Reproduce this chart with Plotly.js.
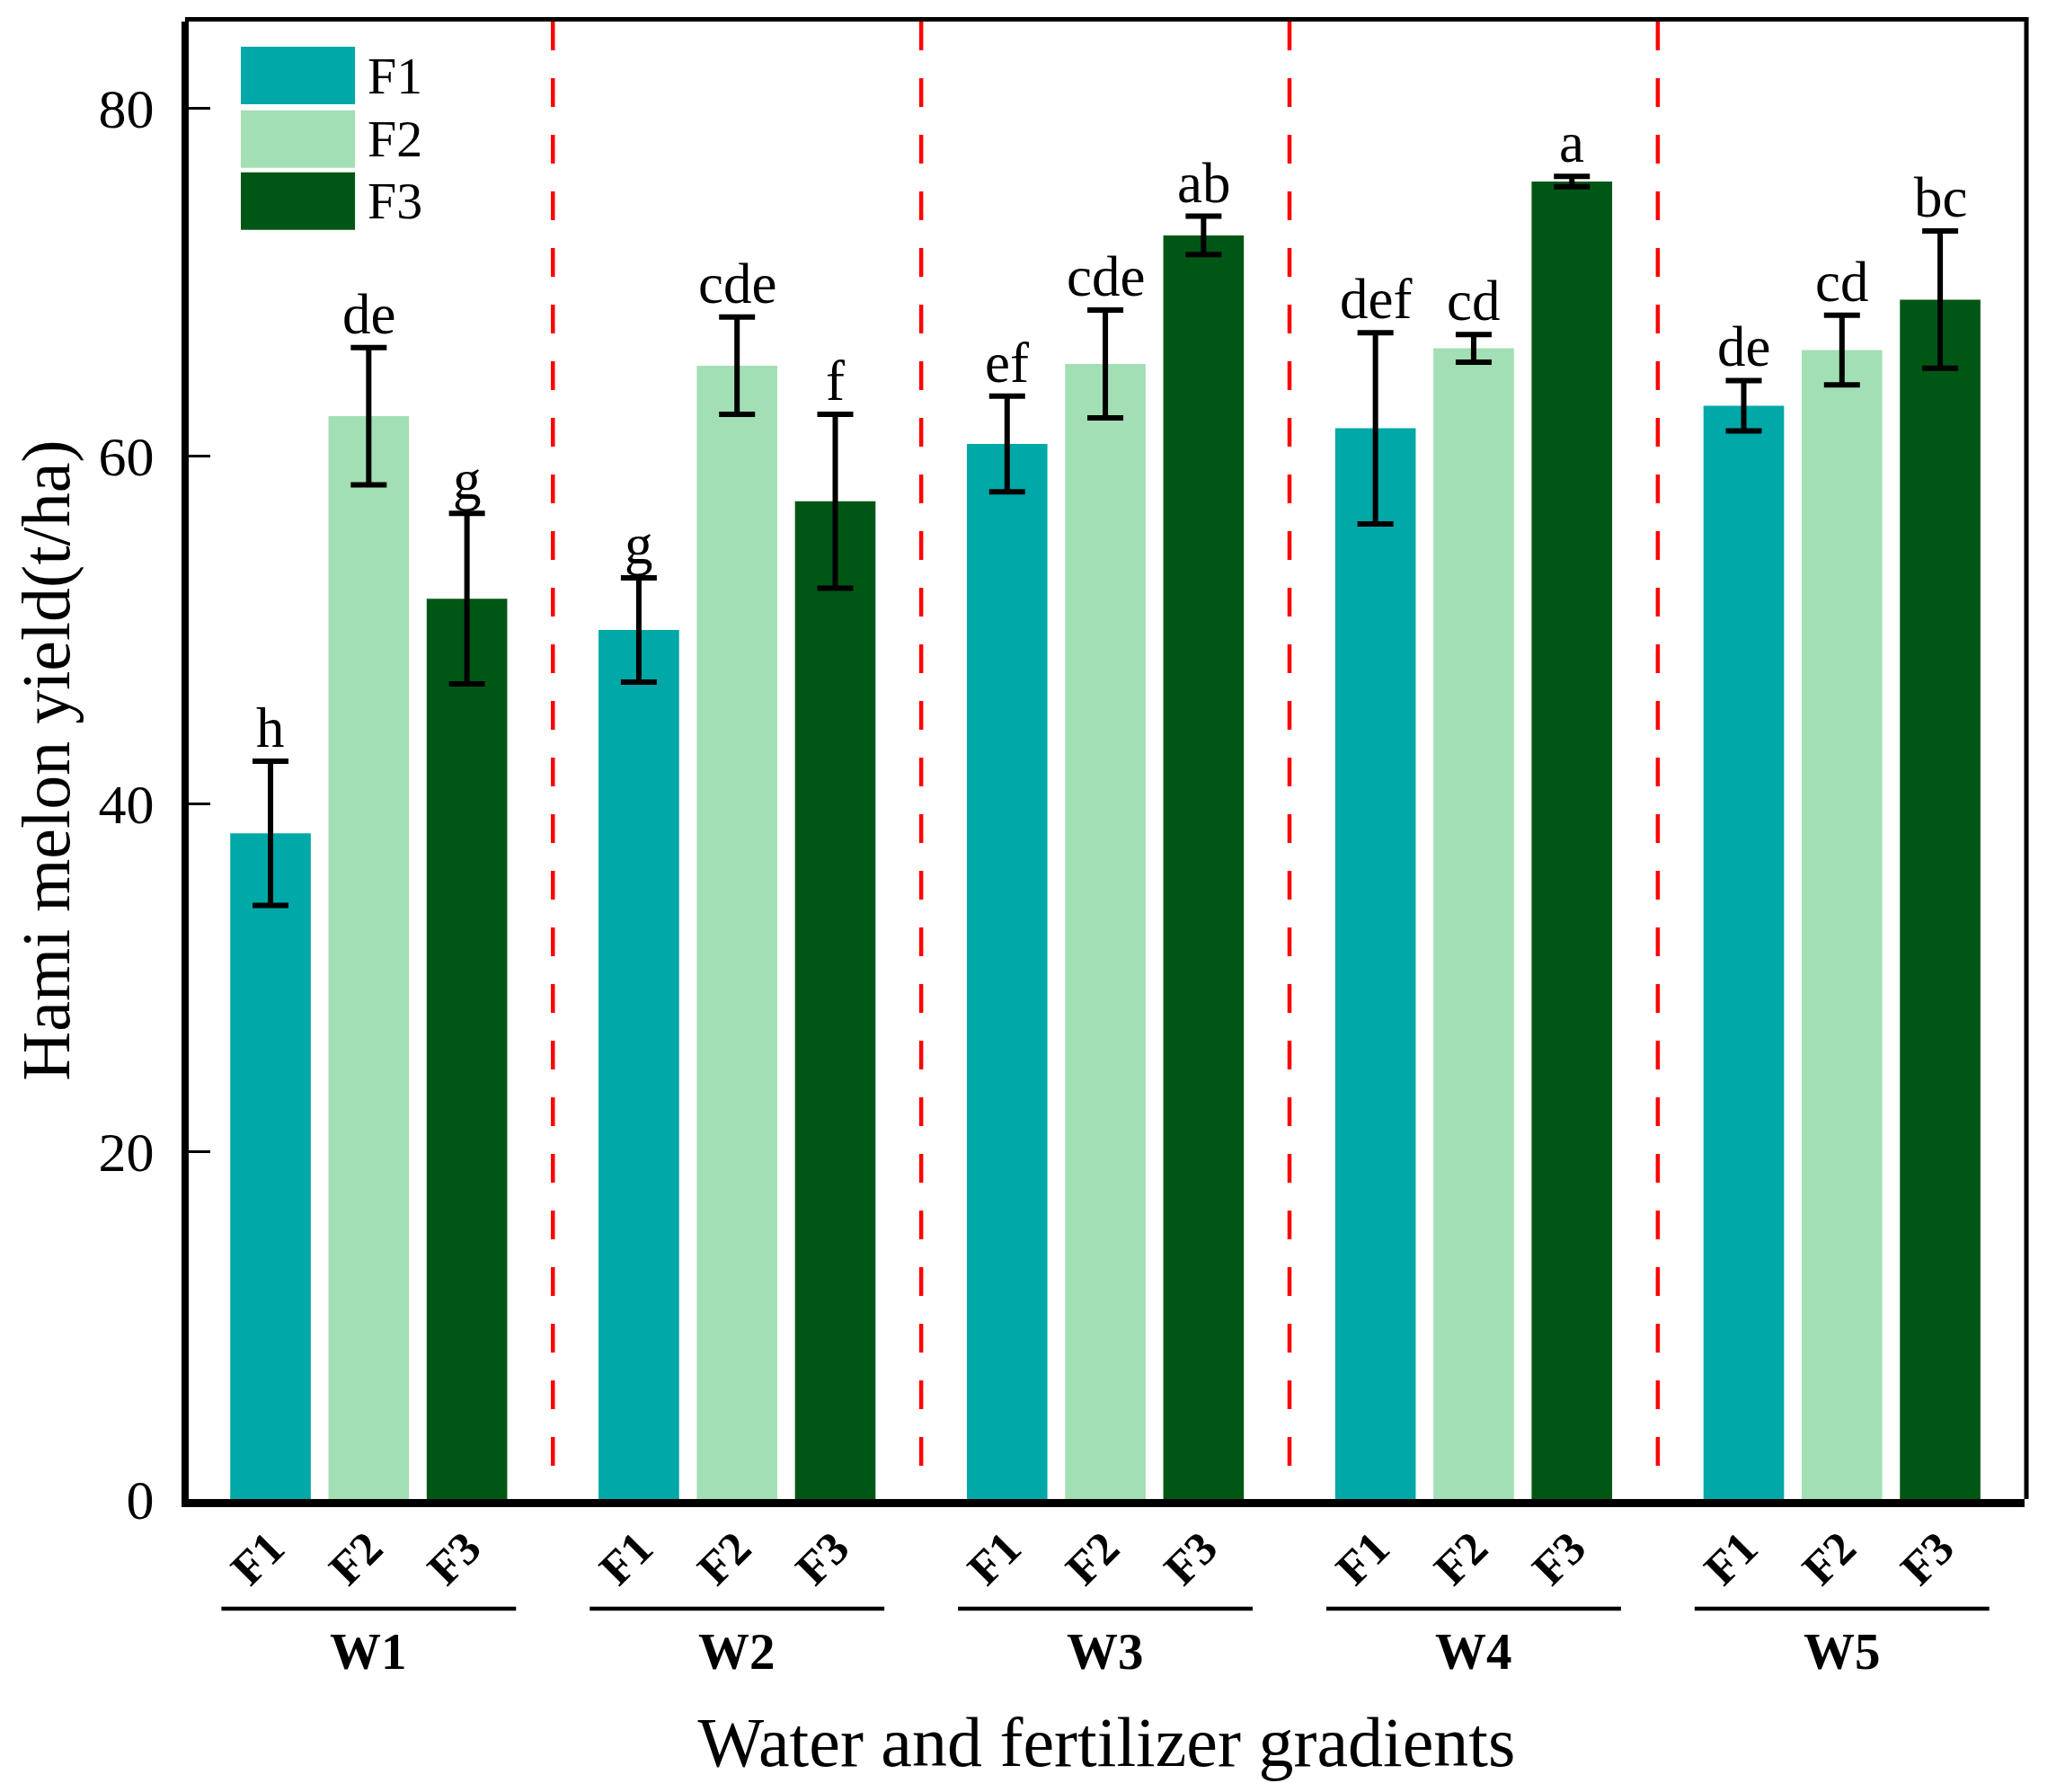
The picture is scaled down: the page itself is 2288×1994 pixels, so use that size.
<!DOCTYPE html>
<html>
<head>
<meta charset="utf-8">
<script src="https://cdn.plot.ly/plotly-3.0.1.min.js"></script>
<style>
  html, body { margin: 0; padding: 0; background: #fff; }
  #chart { width: 2288px; height: 1994px; }
</style>
</head>
<body>
<div id="chart"></div>
<script>
// data
var groups = ['W1', 'W2', 'W3', 'W4', 'W5'];
var levels = ['F1', 'F2', 'F3'];

var yieldF1 = [38.3, 50.0, 60.7, 61.6, 62.9];
var yieldF2 = [62.3, 65.2, 65.3, 66.2, 66.1];
var yieldF3 = [51.8, 57.4, 72.7, 75.8, 69.0];

var errF1 = [4.15, 3.0, 2.75, 5.5, 1.45];
var errF2 = [3.95, 2.8, 3.1, 0.8, 2.0];
var errF3 = [4.9, 5.0, 1.1, 0.3, 3.95];

var lettersF1 = ['h', 'g', 'ef', 'def', 'de'];
var lettersF2 = ['de', 'cde', 'cde', 'cd', 'cd'];
var lettersF3 = ['g', 'f', 'ab', 'a', 'bc'];

var colors = ['#00A8A8', '#A3DFB4', '#005715'];

var values = [yieldF1, yieldF2, yieldF3];
var errors = [errF1, errF2, errF3];
var letters = [lettersF1, lettersF2, lettersF3];

var FONT = 'Times New Roman, Liberation Serif, serif';
var step = 3.75;   // distance between group centres (in bar units)

function xpos(g, k){
	return g * step + (k - 1);
}

var traces = [];
var annotations = [];
var shapes = [];
var tickvals = [];
var ticktext = [];

for(var k = 0; k < levels.length; k++){
	var xs = [];
	for(var g = 0; g < groups.length; g++){
		xs.push(xpos(g, k));
	}
	traces.push({
		type: 'bar',
		name: levels[k],
		x: xs,
		y: values[k],
		width: 0.82,
		marker: {color: colors[k], line: {width: 0}},
		error_y: {
			type: 'data',
			array: errors[k],
			visible: true,
			color: '#000',
			thickness: 6,
			width: 20
		},
		showlegend: false
	});

	//буквы над столбиками
	for(var g = 0; g < groups.length; g++){
		annotations.push({
			x: xs[g],
			y: values[k][g] + errors[k][g],
			xref: 'x', yref: 'y',
			text: letters[k][g],
			showarrow: false,
			yanchor: 'bottom',
			yshift: 0,
			font: {family: FONT, size: 63, color: '#000'}
		});
	}
}

for(var g = 0; g < groups.length; g++){
	for(var k = 0; k < levels.length; k++){
		tickvals.push(xpos(g, k));
		ticktext.push('<b>' + levels[k] + '</b>');
	}
	// group label + line under the F ticks
	annotations.push({
		x: g * step, y: -0.103,
		xref: 'x', yref: 'paper',
		text: '<b>' + groups[g] + '</b>',
		showarrow: false,
		yanchor: 'middle',
		font: {family: FONT, size: 57, color: '#000'}
	});
	shapes.push({
		type: 'line', xref: 'x', yref: 'paper',
		x0: g * step - 1.5, x1: g * step + 1.5,
		y0: -0.0742, y1: -0.0742,
		line: {color: '#000', width: 4.5}
	});
	// red dashed separators
	if(g < groups.length - 1){
		shapes.push({
			type: 'line', xref: 'x', yref: 'paper',
			x0: g * step + step / 2, x1: g * step + step / 2,
			y0: 1, y1: 0.004,
			line: {color: '#FF0000', width: 4.5, dash: '32px,31px'}
		});
	}
}

// top and right frame lines (thinner than axes)
shapes.push({type: 'line', xref: 'paper', yref: 'paper', x0: -0.002, x1: 1.002, y0: 1.0015, y1: 1.0015,
	line: {color: '#000', width: 5}});
shapes.push({type: 'line', xref: 'paper', yref: 'paper', x0: 1.001, x1: 1.001, y0: 0, y1: 1.003,
	line: {color: '#000', width: 5}});

// legend drawn as large boxes
var boxTop = [0.983, 0.940, 0.898];
var boxH = 0.039;
for(var k = 0; k < levels.length; k++){
	shapes.push({
		type: 'rect', xref: 'paper', yref: 'paper',
		x0: 0.0284, x1: 0.0906,
		y0: boxTop[k] - boxH, y1: boxTop[k],
		fillcolor: colors[k],
		line: {width: 0}
	});
	annotations.push({
		x: 0.0965, y: boxTop[k] - boxH / 2,
		xref: 'paper', yref: 'paper',
		xanchor: 'left', yanchor: 'middle',
		text: levels[k],
		showarrow: false,
		font: {family: FONT, size: 58, color: '#000'}
	});
}

var layout = {
	width: 2288,
	height: 1994,
	margin: {l: 210, r: 35, t: 24, b: 326},
	paper_bgcolor: '#fff',
	plot_bgcolor: '#fff',
	font: {family: FONT, color: '#000'},
	barmode: 'overlay',
	xaxis: {
		range: [-1.833, 16.859],
		tickvals: tickvals,
		ticktext: ticktext,
		tickangle: -45,
		ticks: '',
		ticklabelstandoff: -6,
		tickfont: {family: FONT, size: 52, color: '#000'},
		showgrid: false,
		zeroline: false,
		showline: true,
		linecolor: '#000',
		linewidth: 9,
		title: {
			text: 'Water and fertilizer gradients',
			font: {family: FONT, size: 78, color: '#000'},
			standoff: 140
		},
		automargin: false
	},
	yaxis: {
		range: [0, 85],
		tickvals: [0, 20, 40, 60, 80],
		ticks: 'inside',
		ticklen: 24,
		tickwidth: 3,
		tickcolor: '#000',
		ticklabelstandoff: 18,
		tickfont: {family: FONT, size: 62, color: '#000'},
		showgrid: false,
		zeroline: false,
		showline: true,
		linecolor: '#000',
		linewidth: 8,
		title: {
			text: 'Hami melon yield(t/ha)',
			font: {family: FONT, size: 76, color: '#000'},
			standoff: 10
		},
		automargin: false
	},
	shapes: shapes,
	annotations: annotations
};

Plotly.newPlot('chart', traces, layout, {displayModeBar: false, staticPlot: true});
</script>
</body>
</html>
